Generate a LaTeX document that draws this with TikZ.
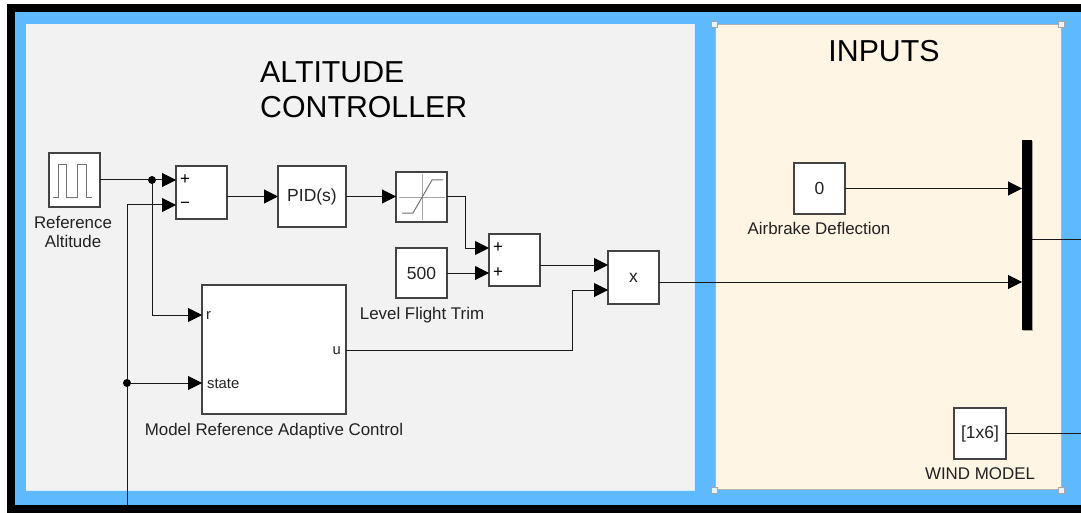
\documentclass[tikz,border=0pt]{standalone}
\usepackage{fontspec}
\setmainfont{Liberation Sans}
\usetikzlibrary{arrows.meta,shadows}
\definecolor{skyb}{HTML}{5FB9FF}
\definecolor{panelg}{HTML}{F2F2F2}
\definecolor{panelc}{HTML}{FFF5E5}
\definecolor{inkd}{HTML}{222222}
\tikzset{
  x=1pt,y=-1pt,
  block/.style={draw=inkd!85,line width=1.1pt,fill=white,anchor=north west,inner sep=0pt,outer sep=0pt,text=inkd,font=\fontsize{17.5}{17.5}\selectfont,
    drop shadow={shadow xshift=1.4pt,shadow yshift=-1.4pt,fill=black,opacity=.35}},
  wire/.style={draw=black!90,line width=1pt},
  feed/.style={wire,-{Triangle[length=14pt,width=14pt,color=black]}},
  lab/.style={text=inkd,font=\fontsize{16.9}{20}\selectfont,inner sep=0pt,align=center},
  port/.style={text=inkd,font=\fontsize{14.8}{15}\selectfont,inner sep=0pt},
  sign/.style={text=black,font=\fontsize{17}{17}\selectfont,inner sep=0pt},
  title/.style={text=black,font=\fontsize{30.3}{35.5}\selectfont,inner sep=0pt,align=left},
  dotj/.style={circle,fill=black,inner sep=0pt,minimum size=8pt},
  handle/.style={draw=black!35,fill=white!85!skyb,line width=.7pt,minimum size=6pt,inner sep=0pt},
  icon/.style={draw=black!55,line width=1pt},
}
\begin{document}
\begin{tikzpicture}
\useasboundingbox (0,0) rectangle (1081,513);
\fill[white] (0,0) rectangle (1081,513);
\fill[black] (7,4.5) rectangle (1081,512.5);
\fill[skyb] (15,12.5) rectangle (1081,504.5);
\fill[panelg] (26,24.5) rectangle (694,490);
\draw[white!75!skyb,line width=.8pt] (26,490) -- (694,490) -- (694,24.5);
\fill[panelc] (715,24.5) rectangle (1061,489.5);
\draw[white!70!black,line width=.6pt] (715,24.5) rectangle (1061,489.5);
\node[handle] (h1) at (714.5,24.5) {};
\node[handle] (h2) at (1061,24.5) {};
\node[handle] (h3) at (714.5,490) {};
\node[handle] (h4) at (1061,490) {};

\node[title,anchor=base west] (t1a) at (260,82.5) {ALTITUDE};
\node[title,anchor=base west] (t1b) at (260,117.5) {CONTROLLER};
\node[title] (t2) at (884,51) {INPUTS};

\node[block,minimum width=51pt,minimum height=54pt] (pulse) at (49,153) {};
\node[block,minimum width=51pt,minimum height=53pt] (sum1) at (176,166) {};
\node[block,minimum width=68pt,minimum height=61pt] (pid) at (278,166) {PID(s)};
\node[block,minimum width=51pt,minimum height=50pt] (sat) at (396,172) {};
\node[block,minimum width=51pt,minimum height=50pt] (trim) at (396,248) {500};
\node[block,minimum width=51pt,minimum height=52pt] (sum2) at (489,234) {};
\node[block,minimum width=51pt,minimum height=53pt] (prod) at (608,251) {x};
\node[block,minimum width=144pt,minimum height=129pt] (mrac) at (202,285) {};
\node[block,minimum width=51pt,minimum height=51pt] (air) at (794,163) {0};
\node[block,fill=black,draw=none,minimum width=10pt,minimum height=190pt] (mux) at (1022,140) {};
\node[block,minimum width=52pt,minimum height=51pt] (wind) at (954,408) {[1x6]};

% icons
\draw[icon] (53,198) -- (58,198) -- (58,165) -- (66,165) -- (66,198) -- (77,198) -- (77,165) -- (86,165) -- (86,198) -- (92,198);
\draw[draw=black!35,line width=.8pt] (399,197) -- (445,197) (422,174) -- (422,220);
\draw[icon] (402,213) -- (413,213) -- (432,180) -- (443,180);

% signs and port labels
\node[sign] (s1) at (185,180) {+};
\node[sign] (s2) at (185,205) {\textminus};
\node[sign] (s3) at (498,248) {+};
\node[sign] (s4) at (498,273) {+};
\node[port,anchor=west] (pr) at (206,316) {r};
\node[port,anchor=west] (ps) at (207,384) {state};
\node[port,anchor=east] (pu) at (341,351) {u};

% labels
\node[lab] (l1) at (73,232) {Reference\\[-.5pt]Altitude};
\node[lab] (l2) at (422,315) {Level Flight Trim};
\node[lab] (l3) at (274,431) {Model Reference Adaptive Control};
\node[lab] (l4) at (819,228.5) {Airbrake Deflection};
\node[lab] (l5) at (980,474) {WIND MODEL};

% junctions and free ends
\node[dotj] (j1) at (152,180) {};
\node[dotj] (j2) at (127,383) {};
\coordinate (fb) at (127,505);
\coordinate (out1) at (1081,239);
\coordinate (out2) at (1081,434);
\coordinate (p1) at (608,265);
\coordinate (p2) at (608,290);
\coordinate (bend) at (572,350);
\coordinate (pout) at (659,282);
\coordinate (satc) at (465,197);
\coordinate (rin) at (202,315);
\coordinate (uout) at (346,350);

% connectors
\draw[wire] (pulse.east |- j1) -- (j1);
\draw[feed] (j1) -- (sum1.west |- j1);
\draw[feed] (j1) |- (rin);
\draw[wire] (fb) -- (j2);
\draw[feed] (j2) -- (mrac.west |- j2);
\draw[feed] (j2) |- (sum1.west |- s2);
\draw[feed] (sum1.east |- pid.west) -- (pid.west);
\draw[feed] (pid.east) -- (sat.west |- pid.east);
\draw[feed] (sat.east) -- (satc) |- (sum2.west |- s3);
\draw[feed] (trim.east |- s4) -- (sum2.west |- s4);
\draw[feed] (sum2.east |- p1) -- (p1);
\draw[feed] (uout) -- (bend) |- (p2);
\draw[feed] (pout) -- (mux.west |- pout);
\draw[feed] (air.east) -- (mux.west |- air.east);
\draw[wire] (mux.east |- out1) -- (out1);
\draw[wire] (wind.east) -- (wind.east -| out2);
\end{tikzpicture}
\end{document}
